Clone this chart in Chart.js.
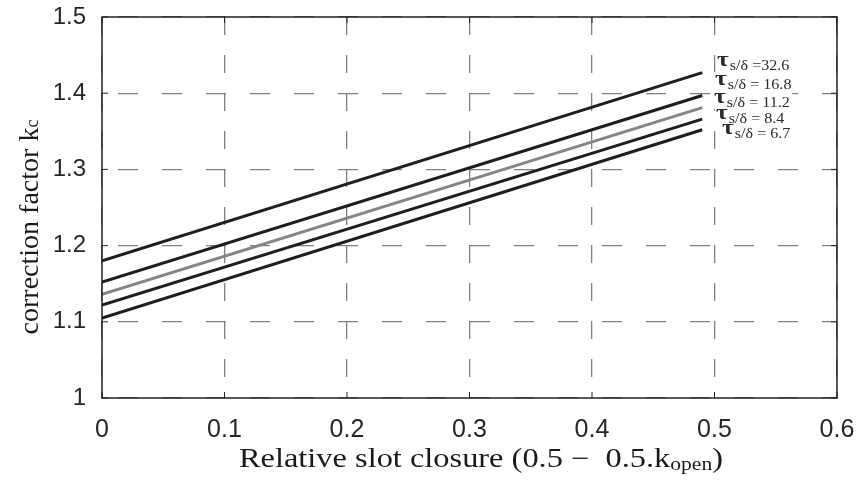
<!DOCTYPE html>
<html>
<head>
<meta charset="utf-8">
<script src="https://cdn.jsdelivr.net/npm/chart.js@4.4.1/dist/chart.umd.min.js"></script>
<style>
  body { margin: 0; background: #fff; }
  #wrap { width: 859px; height: 484px; position: relative; }
</style>
</head>
<body>
<div id="wrap"><canvas id="kcChart"></canvas></div>
<script>
// x positions where each line starts and ends
const xValues = [0, 0.49];

// correction factor k_c for each tau_s/delta ratio
const kcTau326 = [1.180, 1.427];
const kcTau168 = [1.152, 1.397];
const kcTau112 = [1.136, 1.381];
const kcTau84 = [1.122, 1.366];
const kcTau67 = [1.105, 1.352];

const tauRatios = ['32.6', '16.8', '11.2', '8.4', '6.7'];

const xTicks = [0, 0.1, 0.2, 0.3, 0.4, 0.5, 0.6];
const xTickLabels = ['0', '0.1', '0.2', '0.3', '0.4', '0.5', '0.6'];
const yTicks = [1, 1.1, 1.2, 1.3, 1.4, 1.5];
const yTickLabels = ['1', '1.1', '1.2', '1.3', '1.4', '1.5'];

// where the tau labels sit (canvas px) and how the "=" is spaced
const labelSpots = [
    { x: 717, y: 66, eq: '=' },
    { x: 715, y: 85, eq: '= ' },
    { x: 714, y: 103, eq: '= ' },
    { x: 716, y: 119, eq: '= ' },
    { x: 722, y: 134, eq: '= ' }
];

const lineColors = ['#1e1e1e', '#1e1e1e', '#858585', '#1e1e1e', '#1e1e1e'];
const allSeries = [kcTau326, kcTau168, kcTau112, kcTau84, kcTau67];

const toPoints = arr => xValues.map((x, i) => ({ x: x, y: arr[i] }));

const sansFont = "'Liberation Sans', Arial, sans-serif";
const serifFont = "'Liberation Serif', 'Times New Roman', serif";

// box, inward ticks, axis titles and tau labels
const decorPlugin = {
    id: 'decor',
    afterDraw(chart) {
        const ctx = chart.ctx;
        const a = chart.chartArea;
        const xs = chart.scales.x;
        const ys = chart.scales.y;

        ctx.save();

        // tau labels: white boxes first (they hide the grid), then the text
        const tauFont = 'bold 22px ' + serifFont;
        const subFont = '14px ' + serifFont;
        const pieces = labelSpots.map((s, i) => {
            ctx.font = tauFont;
            const tw = ctx.measureText('\u03c4').width;
            ctx.font = subFont;
            const rest = 's/\u03b4 ' + s.eq + tauRatios[i];
            const rw = ctx.measureText(rest).width;
            return { s: s, tw: tw, rest: rest, rw: rw };
        });
        pieces.forEach(p => {
            ctx.save();
            ctx.translate(p.s.x, p.s.y);
            ctx.scale(1.15, 1);
            ctx.fillStyle = '#fff';
            ctx.fillRect(-1, -13, p.tw + p.rw + 4, 19);
            ctx.restore();
        });
        pieces.forEach(p => {
            ctx.save();
            ctx.translate(p.s.x, p.s.y);
            ctx.scale(1.15, 1);
            ctx.fillStyle = '#2a2a2a';
            ctx.font = tauFont;
            ctx.fillText('\u03c4', 0, 0);
            ctx.font = subFont;
            ctx.fillText(p.rest, p.tw + 1, 4);
            ctx.restore();
        });

        ctx.strokeStyle = '#222';
        ctx.lineWidth = 1.5;
        ctx.strokeRect(a.left, a.top, a.right - a.left, a.bottom - a.top);

        ctx.lineWidth = 1;
        const tl = 6;
        xTicks.forEach(v => {
            const px = xs.getPixelForValue(v);
            ctx.beginPath();
            ctx.moveTo(px, a.bottom); ctx.lineTo(px, a.bottom - tl);
            ctx.moveTo(px, a.top); ctx.lineTo(px, a.top + tl);
            ctx.stroke();
        });
        yTicks.forEach(v => {
            const py = ys.getPixelForValue(v);
            ctx.beginPath();
            ctx.moveTo(a.left, py); ctx.lineTo(a.left + tl, py);
            ctx.moveTo(a.right, py); ctx.lineTo(a.right - tl, py);
            ctx.stroke();
        });

        ctx.fillStyle = '#1a1a1a';
        ctx.textBaseline = 'alphabetic';
        ctx.textAlign = 'left';

        // x title (the original is a bit stretched sideways)
        const stretch = 1.2;
        const main = '27px ' + serifFont;
        const sub = '18px ' + serifFont;
        const p1 = 'Relative slot closure (0.5 \u2212  0.5.k';
        const p2 = 'open';
        const p3 = ')';
        ctx.font = main; const w1 = ctx.measureText(p1).width; const w3 = ctx.measureText(p3).width;
        ctx.font = sub; const w2 = ctx.measureText(p2).width;
        ctx.save();
        ctx.translate(481, 467);
        ctx.scale(stretch, 1);
        const x0 = -(w1 + w2 + w3) / 2;
        ctx.font = main; ctx.fillText(p1, x0, 0);
        ctx.font = sub; ctx.fillText(p2, x0 + w1, 3);
        ctx.font = main; ctx.fillText(p3, x0 + w1 + w2, 0);
        ctx.restore();

        // y title
        ctx.save();
        ctx.translate(38, 227);
        ctx.rotate(-Math.PI / 2);
        const ym = '28px ' + serifFont;
        const ysub = '18px ' + serifFont;
        const q1 = 'correction factor k';
        const q2 = 'c';
        ctx.font = ym; const v1 = ctx.measureText(q1).width;
        ctx.font = ysub; const v2 = ctx.measureText(q2).width;
        const s0 = -(v1 + v2) / 2;
        ctx.font = ym; ctx.fillText(q1, s0, 0);
        ctx.font = ysub; ctx.fillText(q2, s0 + v1, 0);
        ctx.restore();

        ctx.restore();
    }
};

new Chart(document.getElementById('kcChart').getContext('2d'), {
    type: 'scatter',
    data: {
        datasets: allSeries.map((arr, i) => ({
            label: 'tau ' + tauRatios[i],
            data: toPoints(arr),
            showLine: true,
            borderColor: lineColors[i],
            borderWidth: 3,
            pointRadius: 0,
            fill: false
        }))
    },
    options: {
        responsive: true,
        maintainAspectRatio: false,
        animation: false,
        layout: { padding: { top: 17, right: 22, left: 0, bottom: 0 } },
        plugins: { legend: { display: false }, tooltip: { enabled: false } },
        scales: {
            x: {
                type: 'linear',
                min: 0, max: 0.6,
                afterBuildTicks: s => { s.ticks = xTicks.map(v => ({ value: v })); },
                afterFit: s => { s.height = 86; s.paddingLeft = 0; s.paddingRight = 0; },
                ticks: {
                    padding: 17,
                    color: '#262626',
                    font: { family: sansFont, size: 25 },
                    callback: (v, i) => xTickLabels[i]
                },
                grid: { color: '#808080', lineWidth: 1.3, drawTicks: false },
                border: { display: false, dash: [18, 20], dashOffset: 0 }
            },
            y: {
                type: 'linear',
                min: 1, max: 1.5,
                afterBuildTicks: s => { s.ticks = yTicks.map(v => ({ value: v })); },
                afterFit: s => { s.width = 102; s.paddingTop = 0; s.paddingBottom = 0; },
                ticks: {
                    padding: 16,
                    color: '#262626',
                    font: { family: sansFont, size: 24 },
                    callback: (v, i) => yTickLabels[i]
                },
                grid: { color: '#808080', lineWidth: 1.3, drawTicks: false },
                border: { display: false, dash: [20, 24], dashOffset: 28 }
            }
        }
    },
    plugins: [decorPlugin]
});
</script>
</body>
</html>
